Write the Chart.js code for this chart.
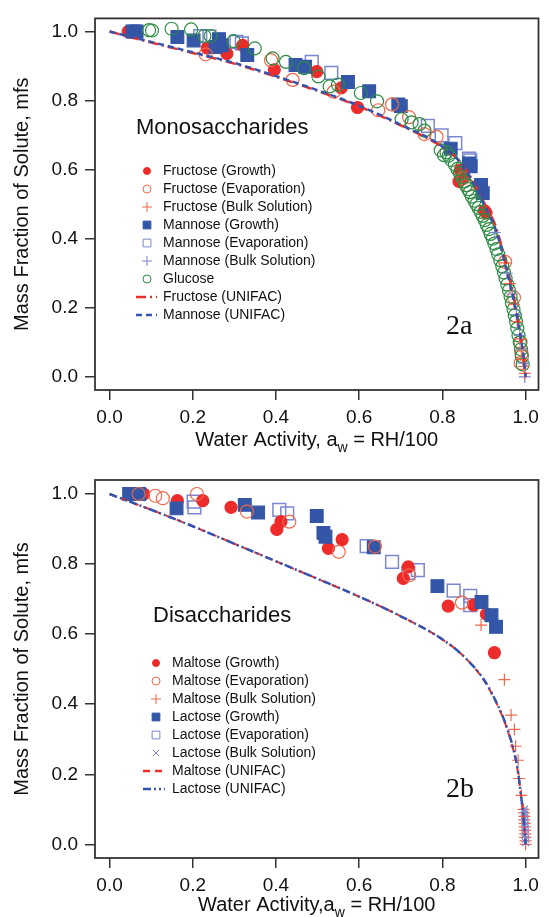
<!DOCTYPE html>
<html>
<head>
<meta charset="utf-8">
<title>Mass fraction of solute vs water activity</title>
<script src="https://cdn.jsdelivr.net/npm/chart.js@4.4.1/dist/chart.umd.min.js"></script>
<style>
  html, body { margin: 0; padding: 0; background: #fff; }
  #wrap { position: relative; width: 549px; height: 917px; overflow: hidden; }
  .panel { position: absolute; left: 0; width: 549px; }
  #p1 { top: 0; height: 460px; }
  #p2 { top: 460px; height: 457px; }
</style>
</head>
<body>
<div id="wrap">
  <div class="panel" id="p1"><canvas id="chartMono" width="549" height="460"></canvas></div>
  <div class="panel" id="p2"><canvas id="chartDi" width="549" height="457"></canvas></div>
</div>
<script>
// ---- dados (2a: monossacarideos) ----
const fructoseGrowthAw  = [0.045, 0.235, 0.282, 0.32, 0.396, 0.498, 0.557, 0.596, 0.843, 0.84, 0.852, 0.901, 0.905];
const fructoseGrowthMfs = [1.0, 0.952, 0.936, 0.96, 0.889, 0.884, 0.837, 0.78, 0.599, 0.566, 0.58, 0.481, 0.475];

const fructoseEvapAw  = [0.231, 0.388, 0.44, 0.539, 0.646, 0.679, 0.72, 0.757, 0.786, 0.85, 0.86, 0.951, 0.972, 0.988, 0.99, 0.988];
const fructoseEvapMfs = [0.934, 0.917, 0.86, 0.826, 0.772, 0.789, 0.752, 0.703, 0.695, 0.575, 0.555, 0.333, 0.23, 0.10, 0.068, 0.04];

const fructoseBulkAw  = [0.951, 0.962, 0.972, 0.98, 0.986, 0.99, 0.993, 0.996, 0.998];
const fructoseBulkMfs = [0.33, 0.27, 0.21, 0.16, 0.11, 0.075, 0.05, 0.03, 0.01];

const mannoseGrowthAw  = [0.055, 0.065, 0.163, 0.202, 0.255, 0.27, 0.263, 0.331, 0.447, 0.47, 0.573, 0.624, 0.694, 0.70, 0.82, 0.864, 0.868, 0.893, 0.897];
const mannoseGrowthMfs = [1.0, 1.0, 0.984, 0.974, 0.955, 0.96, 0.978, 0.932, 0.903, 0.898, 0.854, 0.827, 0.789, 0.784, 0.661, 0.618, 0.61, 0.556, 0.532];

const mannoseEvapAw  = [0.06, 0.218, 0.24, 0.305, 0.318, 0.486, 0.533, 0.765, 0.798, 0.831, 0.864, 0.867];
const mannoseEvapMfs = [1.0, 0.987, 0.985, 0.97, 0.966, 0.912, 0.88, 0.727, 0.699, 0.677, 0.632, 0.627];

const mannoseBulkAw  = [0.926, 0.955, 0.968, 0.978, 0.986, 0.991, 0.995, 0.998];
const mannoseBulkMfs = [0.418, 0.30, 0.24, 0.18, 0.12, 0.08, 0.04, 0.0];

const glucoseAw  = [0.095, 0.102, 0.149, 0.196, 0.228, 0.243, 0.298, 0.349, 0.392, 0.424, 0.467, 0.502, 0.529, 0.549, 0.604, 0.643,
                    0.702, 0.726, 0.745, 0.757, 0.796, 0.804, 0.81, 0.815, 0.822, 0.83, 0.836, 0.842, 0.848, 0.853, 0.856, 0.862,
                    0.866, 0.871, 0.877, 0.882, 0.887, 0.892, 0.897, 0.902, 0.907, 0.912, 0.916, 0.921, 0.925, 0.93, 0.934, 0.939,
                    0.944, 0.948, 0.952, 0.956, 0.96, 0.964, 0.967, 0.971, 0.974, 0.977, 0.98, 0.983, 0.986, 0.989, 0.991, 0.993];
const glucoseMfs = [1.004, 1.003, 1.008, 1.006, 0.987, 0.987, 0.972, 0.951, 0.922, 0.912, 0.894, 0.87, 0.841, 0.846, 0.822, 0.798,
                    0.746, 0.737, 0.732, 0.713, 0.656, 0.642, 0.65, 0.64, 0.628, 0.615, 0.602, 0.59, 0.578, 0.566, 0.555, 0.544,
                    0.535, 0.522, 0.51, 0.5, 0.489, 0.478, 0.466, 0.454, 0.44, 0.428, 0.414, 0.4, 0.386, 0.37, 0.355, 0.338,
                    0.32, 0.302, 0.285, 0.267, 0.25, 0.232, 0.214, 0.195, 0.178, 0.16, 0.14, 0.12, 0.1, 0.08, 0.06, 0.036];

const unifacMonoAw      = [0, 0.1, 0.2, 0.3, 0.4, 0.5, 0.6, 0.7, 0.8, 0.85, 0.9, 0.93, 0.95, 0.97, 0.98, 0.99, 0.995, 1.0];
const fructoseUnifacMfs = [1.0, 0.968, 0.938, 0.907, 0.869, 0.828, 0.783, 0.728, 0.665, 0.612, 0.505, 0.43, 0.34, 0.24, 0.175, 0.1, 0.06, 0.0];
const mannoseUnifacMfs  = [1.0, 0.97, 0.94, 0.909, 0.871, 0.83, 0.785, 0.73, 0.667, 0.61, 0.5, 0.42, 0.33, 0.23, 0.17, 0.1, 0.06, 0.0];

// ---- 2b: dissacarideos ----
const maltoseGrowthAw  = [0.082, 0.163, 0.224, 0.292, 0.402, 0.412, 0.526, 0.559, 0.718, 0.706, 0.814, 0.875, 0.906, 0.925];
const maltoseGrowthMfs = [1.0, 0.981, 0.981, 0.962, 0.899, 0.921, 0.845, 0.87, 0.792, 0.759, 0.68, 0.683, 0.657, 0.547];

const maltoseEvapAw  = [0.07, 0.11, 0.128, 0.21, 0.33, 0.432, 0.551, 0.638, 0.72, 0.847];
const maltoseEvapMfs = [1.0, 0.995, 0.988, 1.0, 0.95, 0.921, 0.835, 0.85, 0.768, 0.69];

const maltoseBulkAw  = [0.893, 0.949, 0.965, 0.973, 0.976, 0.982, 0.984, 0.99, 0.995, 0.996, 0.997, 0.997, 0.998, 0.998, 0.999, 0.999, 0.999, 1.0, 1.0];
const maltoseBulkMfs = [0.626, 0.47, 0.369, 0.328, 0.28, 0.24, 0.188, 0.14, 0.1, 0.09, 0.08, 0.07, 0.06, 0.05, 0.04, 0.03, 0.02, 0.01, 0.0];

const lactoseGrowthAw  = [0.047, 0.071, 0.161, 0.325, 0.357, 0.498, 0.514, 0.519, 0.635, 0.788, 0.894, 0.918, 0.929];
const lactoseGrowthMfs = [1.0, 1.0, 0.959, 0.969, 0.947, 0.937, 0.889, 0.878, 0.848, 0.737, 0.692, 0.654, 0.621];

const lactoseEvapAw  = [0.202, 0.204, 0.408, 0.427, 0.618, 0.679, 0.718, 0.741, 0.827, 0.867, 0.867];
const lactoseEvapMfs = [0.978, 0.962, 0.955, 0.945, 0.851, 0.806, 0.775, 0.783, 0.724, 0.709, 0.683];

const lactoseBulkAw  = [0.997, 0.997, 0.998, 0.998, 0.998, 0.999, 0.999, 0.999, 0.999, 1.0, 1.0];
const lactoseBulkMfs = [0.1, 0.092, 0.085, 0.075, 0.065, 0.055, 0.045, 0.035, 0.025, 0.015, 0.005];

const unifacDiAw       = [0, 0.1, 0.2, 0.3, 0.4, 0.5, 0.6, 0.7, 0.8, 0.85, 0.9, 0.93, 0.95, 0.97, 0.98, 0.99, 0.995, 1.0];
const maltoseUnifacMfs = [1.0, 0.955, 0.908, 0.858, 0.808, 0.758, 0.707, 0.651, 0.585, 0.538, 0.468, 0.403, 0.348, 0.272, 0.218, 0.13, 0.075, 0.0];
const lactoseUnifacMfs = [1.0, 0.955, 0.908, 0.858, 0.808, 0.758, 0.707, 0.651, 0.585, 0.538, 0.47, 0.405, 0.35, 0.275, 0.22, 0.13, 0.075, 0.0];

const xTicksStep = 0.2;
const yTicksStep = 0.2;

const FONT = '"Liberation Sans", Arial, Helvetica, sans-serif';
const SERIF = '"Liberation Serif", "Times New Roman", serif';
const RED = '#ee2b2b', RED_OPEN = '#f2674a', BLUE = '#3356a6', BLUE_OPEN = '#7b87cf', GREEN = '#2c8c45';

function pts(xs, ys) {
    return xs.map((x, i) => ({ x: x, y: ys[i] }));
}

function markers(label, xs, ys, style, radius, color, filled, order) {
    return {
        label: label,
        data: pts(xs, ys),
        showLine: false,
        pointStyle: style,
        pointRadius: radius,
        pointBackgroundColor: filled ? color : 'rgba(0,0,0,0)',
        pointBorderColor: color,
        pointBorderWidth: style === 'rect' && !filled ? 1.5 : 1.2,
        order: order
    };
}

function curve(label, xs, ys, color, dash, width, order) {
    return {
        label: label,
        data: pts(xs, ys),
        showLine: true,
        pointRadius: 0,
        borderColor: color,
        borderWidth: width,
        borderDash: dash,
        cubicInterpolationMode: 'monotone',
        fill: false,
        order: order
    };
}

// moldura, titulo do eixo x com subscrito, textos e legenda
const panelPlugin = {
    id: 'panelDeco',
    afterDraw(chart) {
        const ctx = chart.ctx;
        const a = chart.chartArea;
        const deco = chart.options.plugins.panelDeco;
        ctx.save();

        ctx.strokeStyle = '#333';
        ctx.lineWidth = 1.8;
        ctx.setLineDash([]);
        ctx.strokeRect(a.left, a.top, a.right - a.left, a.bottom - a.top);

        // eixo x: "a" com "w" subscrito
        ctx.fillStyle = '#111';
        ctx.textBaseline = 'middle';
        ctx.textAlign = 'left';
        ctx.font = '20px ' + FONT;
        const w1 = ctx.measureText(deco.xTitle[0]).width;
        const w3 = ctx.measureText(deco.xTitle[1]).width;
        ctx.font = '14px ' + FONT;
        const w2 = ctx.measureText('w').width;
        let tx = (a.left + a.right) / 2 - (w1 + w2 + w3) / 2;
        ctx.font = '20px ' + FONT;
        ctx.fillText(deco.xTitle[0], tx, deco.xTitleY);
        ctx.font = '14px ' + FONT;
        ctx.fillText('w', tx + w1, deco.xTitleY + 8);
        ctx.font = '20px ' + FONT;
        ctx.fillText(deco.xTitle[1], tx + w1 + w2, deco.xTitleY);

        ctx.font = '22px ' + FONT;
        ctx.fillText(deco.name, deco.nameX, deco.nameY);
        ctx.font = '28px ' + SERIF;
        ctx.fillText(deco.tag, deco.tagX, deco.tagY);

        // legenda
        ctx.font = '14px ' + FONT;
        deco.legend.forEach((ent, i) => {
            const ds = chart.data.datasets[ent.ds];
            const y = deco.legY + i * deco.legStep;
            if (ds.showLine) {
                ctx.strokeStyle = ds.borderColor;
                ctx.lineWidth = 2.5;
                ctx.setLineDash(ds.borderDash);
                ctx.beginPath();
                ctx.moveTo(deco.lineX0, y);
                ctx.lineTo(deco.lineX1, y);
                ctx.stroke();
                ctx.setLineDash([]);
            } else {
                ctx.fillStyle = ds.pointBackgroundColor;
                ctx.strokeStyle = ds.pointBorderColor;
                ctx.lineWidth = 1;
                Chart.helpers.drawPoint(ctx, {
                    pointStyle: ds.pointStyle,
                    radius: ent.r,
                    rotation: 0,
                    borderWidth: 1
                }, deco.markX, y);
            }
            ctx.fillStyle = '#111';
            ctx.fillText(ds.label, deco.textX, y);
        });
        ctx.restore();
    }
};

function axisX(min, max, height) {
    return {
        type: 'linear',
        min: min,
        max: max,
        afterFit: (s) => { s.height = height; },
        border: { display: false },
        grid: { display: true, drawOnChartArea: false, drawTicks: true, tickLength: 10, color: '#333', lineWidth: 1.5 },
        ticks: {
            stepSize: xTicksStep, includeBounds: false, padding: 6, maxRotation: 0, color: '#111',
            font: { family: FONT, size: 19 },
            callback: (v) => v.toFixed(1)
        }
    };
}

function axisY(min, max) {
    return {
        type: 'linear',
        position: 'left',
        min: min,
        max: max,
        afterFit: (s) => { s.width = 95; },
        border: { display: false },
        grid: { display: true, drawOnChartArea: false, drawTicks: true, tickLength: 10, color: '#333', lineWidth: 1.5 },
        ticks: {
            stepSize: yTicksStep, includeBounds: false, padding: 7, color: '#111',
            font: { family: FONT, size: 19 },
            callback: (v) => v.toFixed(1)
        },
        title: {
            display: true,
            text: 'Mass Fraction of Solute, mfs',
            color: '#111',
            font: { family: FONT, size: 20 },
            padding: { top: 10, bottom: 0 }
        }
    };
}

function baseOptions(padTop, xHeight, yMin, yMax, deco) {
    return {
        responsive: false,
        animation: false,
        events: [],
        layout: { padding: { top: padTop, right: 1, left: 0, bottom: 0 } },
        scales: {
            x: axisX(-0.035, 1.031, xHeight),
            y: axisY(yMin, yMax)
        },
        plugins: {
            legend: { display: false },
            tooltip: { enabled: false },
            panelDeco: deco
        }
    };
}

// painel 2a
new Chart(document.getElementById('chartMono'), {
    type: 'scatter',
    data: {
        datasets: [
            markers('Fructose (Growth)', fructoseGrowthAw, fructoseGrowthMfs, 'circle', 6, RED, true, 5),
            markers('Fructose (Evaporation)', fructoseEvapAw, fructoseEvapMfs, 'circle', 6.5, RED_OPEN, false, 3),
            markers('Fructose (Bulk Solution)', fructoseBulkAw, fructoseBulkMfs, 'cross', 6, RED_OPEN, false, 1),
            markers('Mannose (Growth)', mannoseGrowthAw, mannoseGrowthMfs, 'rect', 9, BLUE, true, 4),
            markers('Mannose (Evaporation)', mannoseEvapAw, mannoseEvapMfs, 'rect', 9, BLUE_OPEN, false, 6),
            markers('Mannose (Bulk Solution)', mannoseBulkAw, mannoseBulkMfs, 'cross', 6, BLUE_OPEN, false, 1),
            markers('Glucose', glucoseAw, glucoseMfs, 'circle', 6.5, GREEN, false, 2),
            curve('Fructose (UNIFAC)', unifacMonoAw, fructoseUnifacMfs, '#e8302a', [10, 4, 2, 4], 2.5, 0.5),
            curve('Mannose (UNIFAC)', unifacMonoAw, mannoseUnifacMfs, '#3355b0', [6, 4], 2.5, 0)
        ]
    },
    options: baseOptions(13, 70, -0.038, 1.038, {
        xTitle: ['Water Activity, a', ' = RH/100'],
        xTitleY: 440,
        name: 'Monosaccharides', nameX: 136, nameY: 128,
        tag: '2a', tagX: 446, tagY: 327,
        legY: 171, legStep: 18, markX: 147, textX: 163, lineX0: 136, lineX1: 157,
        legend: [
            { ds: 0, r: 3.5 }, { ds: 1, r: 4 }, { ds: 2, r: 5 }, { ds: 3, r: 5.5 }, { ds: 4, r: 5.5 },
            { ds: 5, r: 5 }, { ds: 6, r: 4 }, { ds: 7 }, { ds: 8 }
        ]
    }),
    plugins: [panelPlugin]
});

// painel 2b
new Chart(document.getElementById('chartDi'), {
    type: 'scatter',
    data: {
        datasets: [
            markers('Maltose (Growth)', maltoseGrowthAw, maltoseGrowthMfs, 'circle', 6, RED, true, 5),
            markers('Maltose (Evaporation)', maltoseEvapAw, maltoseEvapMfs, 'circle', 6.5, RED_OPEN, false, 3),
            markers('Maltose (Bulk Solution)', maltoseBulkAw, maltoseBulkMfs, 'cross', 6, RED_OPEN, false, 2),
            markers('Lactose (Growth)', lactoseGrowthAw, lactoseGrowthMfs, 'rect', 9, BLUE, true, 4),
            markers('Lactose (Evaporation)', lactoseEvapAw, lactoseEvapMfs, 'rect', 9, BLUE_OPEN, false, 6),
            markers('Lactose (Bulk Solution)', lactoseBulkAw, lactoseBulkMfs, 'crossRot', 5, BLUE_OPEN, false, 1),
            curve('Maltose (UNIFAC)', unifacDiAw, maltoseUnifacMfs, '#e8302a', [7, 5], 2, 0.5),
            curve('Lactose (UNIFAC)', unifacDiAw, lactoseUnifacMfs, '#3355b0', [8, 3, 2, 3, 2, 3], 2.5, 0)
        ]
    },
    options: baseOptions(20, 59, -0.039, 1.04, {
        xTitle: ['Water Activity,a', ' = RH/100'],
        xTitleY: 445,
        name: 'Disaccharides', nameX: 153, nameY: 156,
        tag: '2b', tagX: 446, tagY: 330,
        legY: 203, legStep: 18, markX: 156, textX: 172, lineX0: 143, lineX1: 165,
        legend: [
            { ds: 0, r: 3.5 }, { ds: 1, r: 4 }, { ds: 2, r: 5 }, { ds: 3, r: 5.5 }, { ds: 4, r: 5.5 },
            { ds: 5, r: 4.5 }, { ds: 6 }, { ds: 7 }
        ]
    }),
    plugins: [panelPlugin]
});
</script>
</body>
</html>
